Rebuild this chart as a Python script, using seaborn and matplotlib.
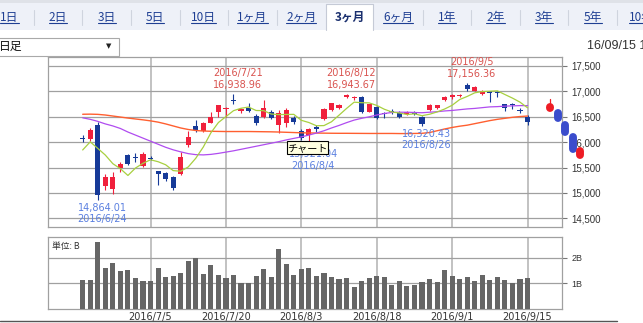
import numpy as np
import matplotlib
matplotlib.use("Agg")
import matplotlib.pyplot as plt
import seaborn as sns
from matplotlib.patches import Rectangle
from matplotlib.lines import Line2D
from matplotlib.transforms import Affine2D, IdentityTransform

# ---------------- data ----------------
dates = ["6/22","6/23","6/24","6/27","6/28","6/29","6/30","7/1","7/4","7/5",
         "7/6","7/7","7/8","7/11","7/12","7/13","7/14","7/15","7/19","7/20",
         "7/21","7/22","7/25","7/26","7/27","7/28","7/29","8/1","8/2","8/3",
         "8/4","8/5","8/8","8/9","8/10","8/12","8/15","8/16","8/17","8/18",
         "8/19","8/22","8/23","8/24","8/25","8/26","8/29","8/30","8/31","9/1",
         "9/2","9/5","9/6","9/7","9/8","9/9","9/12","9/13","9/14","9/15"]
opens  = [16090,16057,16330,15140,15075,15490,15750,15700,15535,15690,
          15435,15400,15320,15370,15950,16325,16220,16385,16590,16650,
          16840,16620,16670,16520,16500,16600,16340,16380,16470,16220,
          16150,16300,16450,16640,16670,16885,16865,16890,16600,16700,
          16560,16610,16570,16555,16580,16500,16640,16680,16840,16880,
          16900,17120,17010,16950,17000,16990,16750,16740,16640,16500]
highs  = [16145,16274,16390,15370,15420,15620,15770,15780,15800,15720,
          15440,15420,15340,15810,16220,16440,16400,16600,16730,16700,
          16939,16680,16770,16560,16830,16640,16640,16680,16520,16250,
          16270,16330,16670,16780,16750,16944,16910,16900,16760,16720,
          16600,16650,16620,16620,16610,16520,16760,16740,16900,16940,
          16950,17156,17100,17030,17010,17000,16760,16770,16680,16530]
lows   = [16010,16024,14864,15060,14980,15420,15560,15605,15520,15640,
          15160,15230,15060,15350,15910,16200,16210,16370,16490,16500,
          16760,16580,16600,16340,16470,16460,16180,16300,16350,16040,
          15921,16200,16440,16620,16650,16870,16840,16580,16590,16450,
          16480,16560,16470,16530,16530,16320,16620,16660,16820,16860,
          16880,17010,17000,16930,16800,16880,16620,16660,16580,16340]
closes = [16065,16238,14952,15309,15323,15567,15576,15682,15776,15669,
          15379,15276,15107,15709,16096,16231,16386,16498,16723,16682,
          16810,16627,16620,16383,16665,16477,16569,16636,16391,16083,
          16255,16254,16651,16765,16735,16920,16870,16597,16746,16486,
          16546,16598,16497,16597,16556,16361,16737,16725,16887,16927,
          16926,17038,17082,17012,16959,16966,16673,16730,16614,16405]
ma5  = [15847,16007,15878,15747,15577,15478,15345,15491,15585,15654,
        15616,15556,15441,15428,15513,15684,15906,16184,16387,16504,
        16620,16668,16692,16624,16621,16554,16543,16546,16548,16431,
        16387,16324,16327,16402,16532,16665,16788,16777,16774,16724,
        16649,16595,16575,16545,16559,16522,16550,16595,16653,16727,
        16840,16901,16972,16997,17003,17011,16938,16868,16788,16678]
ma25 = [16480,16450,16410,16360,16320,16270,16200,16140,16080,16020,
        15960,15900,15850,15810,15775,15755,15750,15760,15780,15805,
        15830,15860,15890,15920,15950,15980,16010,16045,16075,16105,
        16140,16180,16225,16280,16330,16385,16435,16470,16500,16535,
        16565,16585,16590,16590,16585,16580,16590,16600,16615,16625,
        16640,16655,16665,16680,16695,16700,16710,16715,16720,16720]
ma75 = [16550,16552,16548,16535,16515,16495,16475,16457,16440,16420,
        16395,16360,16320,16280,16250,16230,16220,16215,16212,16210,
        16210,16210,16210,16208,16206,16204,16200,16195,16190,16185,
        16182,16180,16178,16176,16175,16175,16174,16173,16172,16172,
        16172,16172,16170,16170,16172,16175,16190,16225,16260,16290,
        16315,16335,16365,16395,16425,16450,16470,16490,16505,16515]
volume = [1.13,1.13,2.61,1.61,1.80,1.48,1.51,1.20,1.09,1.09,
          1.59,1.26,1.30,1.41,1.88,1.98,1.38,1.73,1.34,1.20,
          1.34,1.01,1.01,1.30,1.55,1.26,2.36,1.77,1.34,1.55,
          1.61,1.30,1.41,1.26,1.16,1.20,0.84,1.09,1.20,1.30,
          1.24,0.93,1.09,0.91,0.93,1.05,1.16,1.05,1.52,1.30,
          1.16,1.26,1.09,1.34,1.13,1.24,1.13,1.00,1.16,1.20]
# blurred ghost marks right of the last candle
ghost_lo  = [16410,16548,16680,16474,16197,15870,15751]
ghost_hi  = [16412,16550,16700,16578,16335,16106,15823]
ghost_up  = [True, True, True, False, False, False, True]
ghost_wick_top = [None, None, 16860, None, None, None, None]

xtick_idx = [9, 19, 29, 39, 49, 59]
xtick_labels = ["2016/7/5", "2016/7/20", "2016/8/3", "2016/8/18", "2016/9/1", "2016/9/15"]
price_ticks = [14500, 15000, 15500, 16000, 16500, 17000, 17500]
price_tick_labels = ["14,500", "15,000", "15,500", "16,000", "16,500", "17,000", "17,500"]
vol_ticks = [1, 2]
vol_tick_labels = ["1B", "2B"]
high_marks = [(20, "2016/7/21", "16,938.96"), (35, "2016/8/12", "16,943.67"), (51, "2016/9/5", "17,156.36")]
low_marks = [(2, "14,864.01", "2016/6/24"), (30, "15,921.04", "2016/8/4"), (45, "16,320.43", "2016/8/26")]
tabs = ["1日", "2日", "3日", "5日", "10日", "1ヶ月", "2ヶ月", "3ヶ月", "6ヶ月", "1年", "2年", "3年", "5年", "10年"]
active_tab = 7

# ---------------- style ----------------
sns.set_style("white")
plt.rcParams["font.family"] = ["DejaVu Sans", "Noto Sans CJK JP"]
CJK = ["Noto Sans CJK JP", "DejaVu Sans"]
RED = "#f0203c"
BLUE = "#163a98"
W, H = 643, 323
fig = plt.figure(figsize=(W / 100, H / 100), dpi=100)
pix = Affine2D().scale(1 / W, -1 / H).translate(0, 1) + fig.transFigure

L, R = 48, 561.7
ax_p = fig.add_axes([L / W, 1 - 227 / H, (R - L) / W, (227 - 57) / H])
ax_v = fig.add_axes([L / W, 1 - 308.7 / H, (R - L) / W, (308.7 - 237) / H])

idx = np.arange(len(closes))
XL = (-4.6, 63.53)

# ---------------- price panel ----------------
for i in idx:
    o, h, l, c = opens[i], highs[i], lows[i], closes[i]
    col = RED if c >= o else BLUE
    ax_p.vlines(i, l, h, color=col, lw=0.8, zorder=3)
    bot = min(o, c)
    hgt = max(abs(c - o), 24)
    ax_p.bar(i, hgt, bottom=bot, width=0.68, color=col, linewidth=0, zorder=3)

sns.lineplot(x=idx, y=ma75, ax=ax_p, color="#ff5f30", linewidth=1.0, zorder=4, legend=False)
sns.lineplot(x=idx, y=ma25, ax=ax_p, color="#b04cf0", linewidth=0.9, zorder=4, legend=False)
sns.lineplot(x=idx, y=ma5, ax=ax_p, color="#a8d040", linewidth=0.9, zorder=4, legend=False)

for k in range(len(ghost_lo)):
    gi = len(closes) + k
    col = "#ee1c24" if ghost_up[k] else "#3a4ccc"
    if ghost_wick_top[k] is not None:
        ax_p.plot([gi, gi], [ghost_hi[k], ghost_wick_top[k]], color=col, lw=0.9,
                  clip_on=False, zorder=6)
    ax_p.plot([gi, gi], [ghost_lo[k], ghost_hi[k]], color=col, lw=5.7,
              solid_capstyle="round", clip_on=False, zorder=6)

for i, d, v in high_marks:
    ax_p.annotate(d + "\n" + v, xy=(i, highs[i]), xytext=(3.2, 3.4), textcoords="offset points",
                  ha="center", va="bottom", fontsize=7, color="#d9534f", linespacing=1.2,
                  family="DejaVu Sans", zorder=7)
for i, v, d in low_marks:
    ax_p.annotate(v + "\n" + d, xy=(i, lows[i]), xytext=(3.2, -2.0), textcoords="offset points",
                  ha="center", va="top", fontsize=7, color="#5b80e0", linespacing=1.2,
                  family="DejaVu Sans", zorder=7)

ax_p.set_xlim(*XL)
ax_p.set_ylim(14330.7, 17677)
ax_p.set_xticks(xtick_idx)
ax_p.tick_params(axis="x", length=0, labelbottom=False)
ax_p.yaxis.tick_right()
ax_p.set_yticks(price_ticks)
ax_p.set_yticklabels(price_tick_labels)
ax_p.tick_params(axis="y", length=3.6, width=0.8, color="#777777", pad=3.2,
                 labelsize=7, labelcolor="#333333", labelfontfamily="Liberation Sans")
ax_p.xaxis.grid(True, color="#b8b8b8", lw=1.2)
ax_p.yaxis.grid(True, color="#a0a0a0", lw=0.9)
ax_p.set_axisbelow(True)
ax_p.set_xlabel("")
ax_p.set_ylabel("")

# ---------------- volume panel ----------------
sns.barplot(x=idx, y=volume, ax=ax_v, native_scale=True, width=0.68, color="#666666",
            saturation=1, linewidth=0, errorbar=None, zorder=3)
ax_v.set_xlim(*XL)
ax_v.set_ylim(0, 2.823)
ax_v.set_xticks(xtick_idx)
ax_v.set_xticklabels(xtick_labels)
ax_v.tick_params(axis="x", length=0, pad=2.2, labelsize=7, labelcolor="#333333")
ax_v.yaxis.tick_right()
ax_v.set_yticks(vol_ticks)
ax_v.set_yticklabels(vol_tick_labels)
ax_v.tick_params(axis="y", length=3.6, width=0.8, color="#777777", pad=3.2,
                 labelsize=6.5, labelcolor="#333333", labelfontfamily="Liberation Sans")
ax_v.xaxis.grid(True, color="#b8b8b8", lw=1.2)
ax_v.yaxis.grid(True, color="#a0a0a0", lw=0.9)
ax_v.set_axisbelow(True)
ax_v.set_xlabel("")
ax_v.set_ylabel("")
ax_v.text(0.008, 0.93, "単位: B", transform=ax_v.transAxes, fontsize=6.3, family=CJK,
          color="#333333", ha="left", va="top")

for ax in (ax_p, ax_v):
    for s in ax.spines.values():
        s.set_color("#a0a0a0")
        s.set_linewidth(0.9)

# ---------------- page chrome ----------------
fig.add_artist(Rectangle((0, 0), W, 3, transform=pix, facecolor="#dfe2e8", edgecolor="none", zorder=-1))
fig.add_artist(Rectangle((0, 3), W, 26.5, transform=pix, facecolor="#eef1f8", edgecolor="none", zorder=-1))
fig.add_artist(Rectangle((326, 4), 47, 26, transform=pix, facecolor="white", edgecolor="none", zorder=0))
fig.add_artist(Line2D([326, 326, 373, 373], [30, 4, 4, 30], transform=pix, color="#c5cad6", lw=0.8))

tab_texts = []
for k, lab in enumerate(tabs):
    cx = 9.5 + 48.6 * k
    act = (k == active_tab)
    t = fig.text(cx, 17.5, lab, transform=pix, ha="center", va="center", fontsize=8.5,
                 family=CJK, color="#1a2f6e" if act else "#1f3f93",
                 fontweight="bold" if act else "normal")
    tab_texts.append((t, act))
    sx = cx + 24.3
    if k not in (active_tab - 1, active_tab):
        fig.add_artist(Line2D([sx, sx], [10, 25], transform=pix, color="#cfd4de", lw=0.8))

fig.canvas.draw()
rend = fig.canvas.get_renderer()
for t, act in tab_texts:
    if act:
        continue
    bb = t.get_window_extent(rend)
    yd = H - 23.3
    fig.add_artist(Line2D([bb.x0, bb.x1], [yd, yd], transform=IdentityTransform(),
                          color="#1f3f93", lw=0.8))

fig.add_artist(Rectangle((-3, 38), 122, 17.5, transform=pix, facecolor="white",
                         edgecolor="#a9a9a9", lw=0.8))
fig.text(-1.5, 46.8, "日足", transform=pix, ha="left", va="center", fontsize=8.5, family=CJK, color="#111111")
fig.text(108.6, 46.5, "▼", transform=pix, ha="center", va="center", fontsize=5, color="#222222")
fig.text(587, 46, "16/09/15 15:00", transform=pix, ha="left", va="center", fontsize=9,
         family="Liberation Sans", color="#333333")

# tooltip
fig.add_artist(Rectangle((287.3, 140.7), 41, 13.3, transform=pix, facecolor="#ffffe1",
                         edgecolor="#000000", lw=0.8, zorder=20))
fig.text(307.8, 147.6, "チャート", transform=pix, ha="center", va="center", fontsize=7.3,
         family=CJK, color="#000000", zorder=21)

fig.add_artist(Line2D([0, 617], [320.7, 320.7], transform=pix, color="#555555", lw=1.0))

fig.savefig("out.png", dpi=100)
